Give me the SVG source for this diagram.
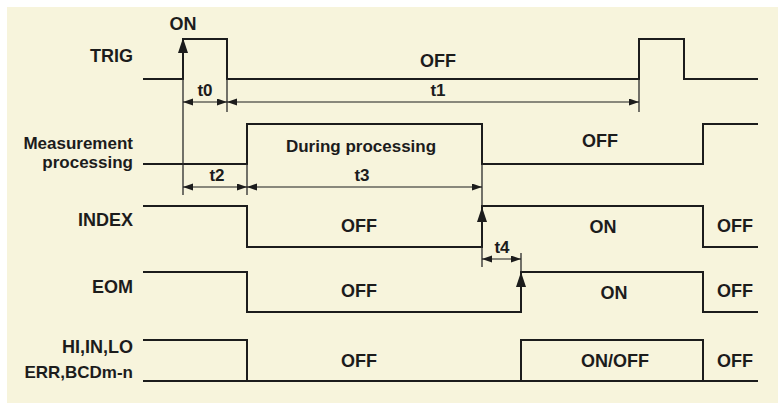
<svg xmlns="http://www.w3.org/2000/svg" width="778" height="403" viewBox="0 0 778 403">
<style>
.sig{fill:none;stroke:#1c1c1c;stroke-width:2;stroke-linejoin:miter}
.ext{fill:none;stroke:#2a2a2a;stroke-width:1.3}
.dim{fill:none;stroke:#1c1c1c;stroke-width:1.1}
text{font-family:"Liberation Sans",Arial,Helvetica,sans-serif;font-weight:bold;fill:#1c1c1c}
.lbl{font-size:17px;text-anchor:end}
.lbc{font-size:18px;text-anchor:end}
.st{font-size:18px;text-anchor:middle}
.tm{font-size:17px;text-anchor:middle}
</style>
<defs>
<marker id="dimArrow" markerUnits="userSpaceOnUse" markerWidth="11" markerHeight="8" refX="10" refY="3.5" orient="auto-start-reverse">
<path d="M0,0 L10,3.5 L0,7 Z" fill="#1c1c1c"/>
</marker>
<marker id="upArrow" markerUnits="userSpaceOnUse" markerWidth="16" markerHeight="11" refX="15" refY="5" orient="auto">
<path d="M0,0 L15,5 L0,10 Z" fill="#1c1c1c"/>
</marker>
</defs>
<rect x="7" y="7" width="771" height="396" fill="#F7F4DC"/>

<g id="trig">
<text class="lbc" x="133" y="62">TRIG</text>
<text class="st" x="183" y="30">ON</text>
<text class="st" x="438" y="67">OFF</text>
<polyline class="sig" points="143,79 183,79 183,39 227,39 227,79 639,79 639,39 684,39 684,79 758,79"/>
</g>

<g id="measurement">
<text class="lbl" x="133" y="149">Measurement</text>
<text class="lbl" x="133" y="168">processing</text>
<text class="tm" x="361" y="152">During processing</text>
<text class="st" x="600" y="147">OFF</text>
<polyline class="sig" points="143,164 247,164 247,124 482,124 482,164 703,164 703,124 758,124"/>
</g>

<g id="index">
<text class="lbc" x="133" y="226">INDEX</text>
<text class="st" x="359" y="232">OFF</text>
<text class="st" x="603" y="233">ON</text>
<text class="st" x="735" y="232">OFF</text>
<polyline class="sig" points="143,206 247,206 247,247 482,247 482,206 703,206 703,247 758,247"/>
</g>

<g id="eom">
<text class="lbc" x="133" y="293">EOM</text>
<text class="st" x="359" y="297">OFF</text>
<text class="st" x="614" y="299">ON</text>
<text class="st" x="735" y="297">OFF</text>
<polyline class="sig" points="143,272 247,272 247,312 521,312 521,272 703,272 703,312 758,312"/>
</g>

<g id="outputs">
<text class="lbc" x="133" y="353">HI,IN,LO</text>
<text class="lbl" x="133" y="378">ERR,BCDm-n</text>
<text class="st" x="359" y="367">OFF</text>
<text class="st" x="615" y="367">ON/OFF</text>
<text class="st" x="735" y="367">OFF</text>
<polyline class="sig" points="143,340 247,340 247,381"/>
<line class="sig" x1="143" y1="381" x2="758" y2="381"/>
<polyline class="sig" points="521,381 521,340 703,340 703,381"/>
</g>

<g id="connectors">
<line class="ext" x1="183" y1="79" x2="183" y2="195"/>
<line class="ext" x1="227" y1="79" x2="227" y2="112"/>
<line class="ext" x1="639" y1="79" x2="639" y2="112"/>
<line class="ext" x1="247" y1="164" x2="247" y2="195"/>
<line class="ext" x1="482" y1="164" x2="482" y2="206"/>
<line class="ext" x1="482" y1="247" x2="482" y2="267"/>
<line class="ext" x1="521" y1="253" x2="521" y2="272"/>
<line class="sig" x1="183" y1="79" x2="183" y2="38" marker-end="url(#upArrow)"/>
<line class="sig" x1="482" y1="247" x2="482" y2="207" marker-end="url(#upArrow)"/>
<line class="sig" x1="521" y1="312" x2="521" y2="272" marker-end="url(#upArrow)"/>
<line class="dim" x1="183" y1="102" x2="227" y2="102" marker-start="url(#dimArrow)" marker-end="url(#dimArrow)"/>
<line class="dim" x1="227" y1="102" x2="639" y2="102" marker-start="url(#dimArrow)" marker-end="url(#dimArrow)"/>
<line class="dim" x1="183" y1="187" x2="247" y2="187" marker-start="url(#dimArrow)" marker-end="url(#dimArrow)"/>
<line class="dim" x1="247" y1="187" x2="482" y2="187" marker-start="url(#dimArrow)" marker-end="url(#dimArrow)"/>
<line class="dim" x1="482" y1="259" x2="521" y2="259" marker-start="url(#dimArrow)" marker-end="url(#dimArrow)"/>
<text class="tm" x="205" y="96">t0</text>
<text class="tm" x="438" y="96">t1</text>
<text class="tm" x="217" y="181">t2</text>
<text class="tm" x="362" y="181">t3</text>
<text class="tm" x="502" y="253">t4</text>
</g>
</svg>
